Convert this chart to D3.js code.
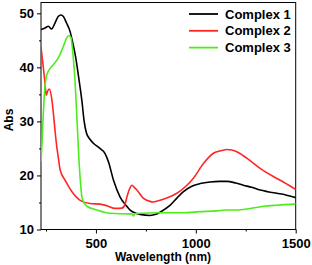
<!DOCTYPE html>
<html>
<head>
<meta charset="utf-8">
<script src="https://cdn.jsdelivr.net/npm/d3@7"></script>
<style>
  body { margin: 0; background: #fff; }
  text { font-family: "Liberation Sans", Arial, sans-serif; font-weight: bold; }
</style>
</head>
<body>
<svg id="chart" width="312" height="265"></svg>
<script>
// Complex 1 (black)
const c1Wl  = [225,245,262,278,295,311,325,337,353,370,386,398,408,420,431,440,453,470,486,520,545,563,588,621,650,671,700,721,771,800,821,872,905,938,980,1022,1071,1120,1155,1200,1238,1280,1322,1360,1405,1450,1500]
const c1Abs = [47.0,47.3,47.6,47.1,48.2,49.4,49.7,49.4,48.2,46.7,44.2,42.0,39.6,36.5,33.4,30.3,27.8,26.7,26.0,25.0,24.1,22.5,19.1,16.0,14.5,13.6,13.0,12.8,12.6,12.8,13.2,14.5,15.8,17.0,18.0,18.5,18.8,18.9,18.9,18.6,18.2,17.8,17.3,17.0,16.7,16.4,15.9]
// Complex 2 (red)
const c2Wl  = [225,236,245,251,258,266,278,287,295,305,311,321,346,380,421,471,521,555,596,630,645,655,668,680,692,705,738,770,788,821,860,905,950,988,1038,1088,1130,1155,1180,1205,1255,1322,1388,1438,1470,1500]
const c2Abs = [43.8,40.2,37.1,34.8,35.6,36.0,34.4,31.5,28.4,25.0,23.5,21.0,19.1,17.0,15.4,14.8,14.7,14.4,13.9,13.95,14.6,16.0,17.5,18.2,17.8,17.3,15.75,15.2,15.1,15.4,15.9,16.7,18.0,19.5,22.2,24.1,24.6,24.8,24.7,24.4,23.2,21.3,19.8,18.8,18.1,17.4]
// Complex 3 (green)
const c3Wl  = [225,230,236,241,245,252,262,287,311,337,353,365,375,381,386,395,403,410,415,421,430,443,455,505,571,671,682,688,695,721,821,938,1020,1105,1150,1200,1272,1340,1405,1500]
const c3Abs = [22.5,26,31,34.5,36.5,38.3,39.3,40.5,41.7,43.9,45.4,45.9,45.5,44,42.0,37.7,32.0,26.6,22.9,19.5,16.0,14.8,14.3,13.6,13.0,12.9,12.9,12.5,12.9,13.0,13.1,13.1,13.3,13.45,13.6,13.6,13.9,14.3,14.5,14.7]

const seriesNames = ["Complex 1", "Complex 2", "Complex 3"]
const seriesColors = ["#000000", "#ff2626", "#4ded1c"]
const xMajor = [500, 1000, 1500]
const xMinor = [250, 750, 1250]
const yMajor = [10, 20, 30, 40, 50]
const yMinor = [15, 25, 35, 45]

const series = [[c1Wl, c1Abs], [c2Wl, c2Abs], [c3Wl, c3Abs]]
  .map(([w, a], i) => ({ name: seriesNames[i], color: seriesColors[i], pts: w.map((d, j) => [d, a[j]]) }))

const svg = d3.select("#chart")
const m = { left: 41, right: 16.3, top: 2.5, bottom: 35.5 }
const W = 312 - m.left - m.right
const H = 265 - m.top - m.bottom

const x = d3.scaleLinear().domain([225, 1500]).range([0, W])
const y = d3.scaleLinear().domain([10, 52]).range([H, 0])

const g = svg.append("g").attr("transform", `translate(${m.left},${m.top})`)

g.append("clipPath").attr("id", "clip")
  .append("rect").attr("width", W).attr("height", H)

// minor ticks
g.append("g").attr("transform", `translate(0,${H})`)
  .call(d3.axisBottom(x).tickValues(xMinor).tickFormat("").tickSizeInner(2).tickSizeOuter(0))
g.append("g")
  .call(d3.axisLeft(y).tickValues(yMinor).tickFormat("").tickSizeInner(2).tickSizeOuter(0))

g.append("g").attr("transform", `translate(0,${H})`)
  .call(d3.axisBottom(x).tickValues(xMajor).tickFormat(d3.format("d")).tickSizeInner(4).tickSizeOuter(0).tickPadding(5))
g.append("g")
  .call(d3.axisLeft(y).tickValues(yMajor).tickFormat(d3.format("d")).tickSizeInner(4).tickSizeOuter(0).tickPadding(3))

g.selectAll(".tick text").style("font-size", "13px").attr("fill", "#000")
g.selectAll(".domain").remove()

g.append("rect")
  .attr("width", W).attr("height", H)
  .attr("fill", "none").attr("stroke", "#000").attr("stroke-width", 1)

const line = d3.line()
  .x(d => x(d[0])).y(d => y(d[1]))
  .curve(d3.curveMonotoneX)

g.append("g").attr("clip-path", "url(#clip)")
  .selectAll("path").data(series).join("path")
  .attr("d", d => line(d.pts))
  .attr("fill", "none")
  .attr("stroke", d => d.color)
  .attr("stroke-width", 1.6)

// legend
const leg = svg.append("g")
series.forEach((s, i) => {
  const ly = 14 + i * 16.8
  leg.append("line").attr("x1", 189).attr("x2", 218).attr("y1", ly).attr("y2", ly)
    .attr("stroke", s.color).attr("stroke-width", 1.8)
  leg.append("text").attr("x", 225).attr("y", ly + 4.5)
    .style("font-size", "13px").text(s.name)
})

svg.append("text").attr("x", 163).attr("y", 261)
  .attr("text-anchor", "middle").style("font-size", "12px").text("Wavelength (nm)")
svg.append("text").attr("transform", "translate(13,120) rotate(-90)")
  .attr("text-anchor", "middle").style("font-size", "12px").text("Abs")
</script>
</body>
</html>
